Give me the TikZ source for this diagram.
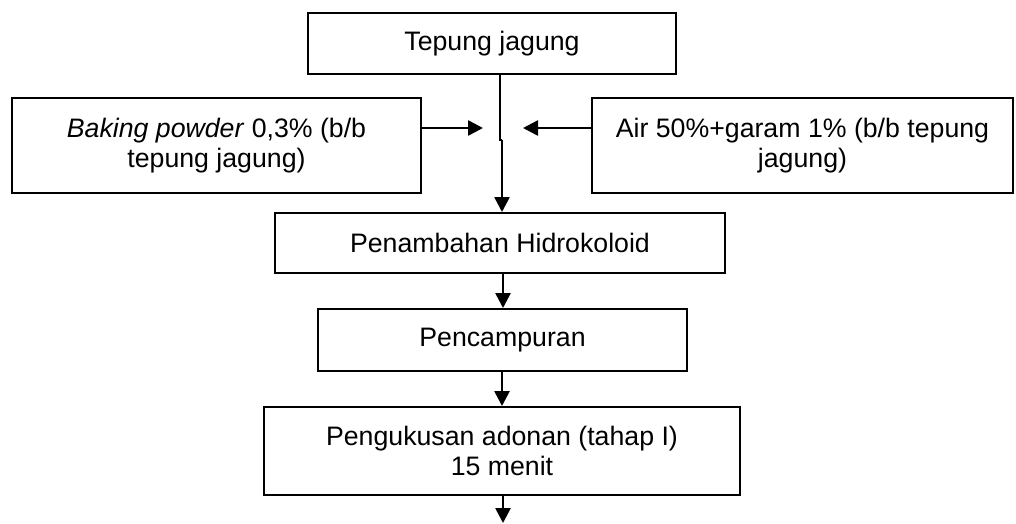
\documentclass[tikz,border=0pt]{standalone}
\usepackage{fontspec}
\setmainfont{Liberation Sans}
\usetikzlibrary{arrows.meta}
\begin{document}
\begin{tikzpicture}[x=1pt,y=-1pt,
  box/.style={draw=black,line width=2pt,rectangle,inner sep=0pt,align=center,
    font=\fontsize{26.7}{30}\selectfont},
  conn/.style={line width=2.6pt,draw=black},
  arr/.style={conn,-{Triangle[length=15pt,width=15pt]}}]
\useasboundingbox (0,0) rectangle (1016,523);
\node[box,minimum width=368pt,minimum height=61pt] (top) at (492,43.5) {Tepung jagung};
\node[box,minimum width=409pt,minimum height=95pt] (left) at (216.5,145.5) {\textit{Baking powder} 0,3\% (b/b\\tepung jagung)};
\node[box,minimum width=421pt,minimum height=95pt] (right) at (802.5,145.5) {Air 50\%+garam 1\% (b/b tepung\\jagung)};
\node[box,minimum width=450pt,minimum height=60pt] (pen) at (500,243) {Penambahan Hidrokoloid};
\node[box,minimum width=369pt,minimum height=62pt] (camp) at (502.5,340) {Pencampuran};
\node[box,minimum width=476pt,minimum height=88pt] (kukus) at (502,451) {Pengukusan adonan (tahap I)\\15 menit};
\coordinate (tipL) at (483,128);
\coordinate (tipR) at (523,128);
\coordinate (j1) at (500,140);
\coordinate (j2) at (502,140);
\coordinate (endB) at (503,523);
\draw[conn] (top.south -| j1) -- (j1) -- (j2);
\draw[arr] (j2) -- (pen.north -| j2);
\draw[arr] (left.east |- tipL) -- (tipL);
\draw[arr] (right.west |- tipR) -- (tipR);
\draw[arr] (pen.south -| 503,0) -- (camp.north -| 503,0);
\draw[arr] (camp.south -| 502,0) -- (kukus.north -| 502,0);
\draw[arr] (kukus.south -| endB) -- (endB);
\end{tikzpicture}
\end{document}
